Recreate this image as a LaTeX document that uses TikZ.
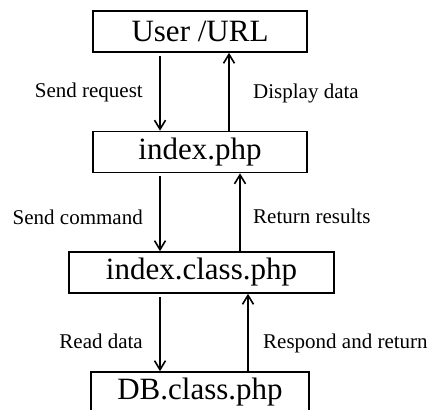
\documentclass[tikz,border=0pt]{standalone}
\usepackage{fontspec}
\setmainfont{Liberation Serif}
\usepackage{tikz}
\usetikzlibrary{arrows.meta}
\newcommand{\boxfont}{\fontsize{31}{36}\selectfont}
\newcommand{\labfont}{\fontsize{21}{25}\selectfont}

\begin{document}
\begin{tikzpicture}[x=1pt, y=-1pt]
    \tikzstyle{block}=[draw, line width=1.6pt, minimum height=41pt, inner sep=0pt, font=\boxfont];
    \tikzstyle{lbl}=[inner sep=0pt, font=\labfont];
    \tikzstyle{flow}=[line width=1.6pt, -{Straight Barb[length=9pt, width=11pt, line width=1.6pt]}];
    \useasboundingbox (0,0) rectangle (430,409);
    % boxes
    \node[block, minimum width=214pt] (user) at (200,31.5) {User /URL};
    \node[block, minimum width=214pt] (index) at (200,152) {index.php};
    \node[block, minimum width=265pt] (cls) at (201.5,272.5) {index.class.php};
    \node[block, minimum width=218pt] (db) at (200,392.5) {DB.class.php};
    % arrows
    \draw[flow, shorten <=3pt] ([xshift=-40pt]user.south) -- ([xshift=-40pt]user.south |- index.north);
    \draw[flow] ([xshift=29pt]index.north) -- ([xshift=29pt]index.north |- user.south);
    \draw[flow, shorten <=3pt] ([xshift=-40pt]index.south) -- ([xshift=-40pt]index.south |- cls.north);
    \draw[flow] ([xshift=40pt]index.south |- cls.north) -- ([xshift=40pt]index.south);
    \draw[flow, shorten <=3pt] ([xshift=-40pt]db.north |- cls.south) -- ([xshift=-40pt]db.north);
    \draw[flow] ([xshift=48pt]db.north) -- ([xshift=48pt]db.north |- cls.south);
    % labels
    \node[lbl, anchor=base east] (sendreq) at (143,97) {Send request};
    \node[lbl, anchor=base west] (display) at (253,99) {Display data};
    \node[lbl, anchor=base east] (sendcmd) at (143,224) {Send command};
    \node[lbl, anchor=base west] (retres) at (253,223) {Return results};
    \node[lbl, anchor=base east] (readdata) at (143,348) {Read data};
    \node[lbl, anchor=base west] (respond) at (263,348) {Respond and return};
\end{tikzpicture}
\end{document}
